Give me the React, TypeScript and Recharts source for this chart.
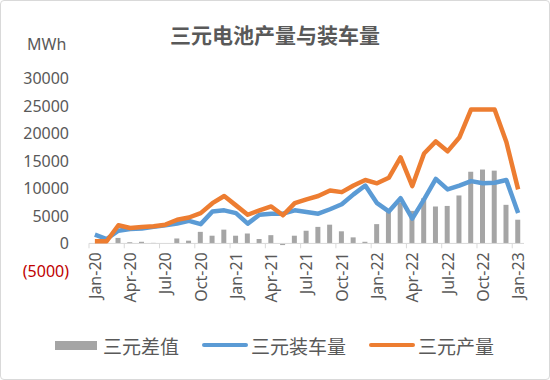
import {
  Bar,
  ComposedChart,
  Line,
  ReferenceLine,
  XAxis,
  YAxis,
} from "recharts";

const MONTHS = [
  "Jan-20", "Feb-20", "Mar-20", "Apr-20", "May-20", "Jun-20", "Jul-20", "Aug-20", "Sep-20", "Oct-20", "Nov-20", "Dec-20",
  "Jan-21", "Feb-21", "Mar-21", "Apr-21", "May-21", "Jun-21", "Jul-21", "Aug-21", "Sep-21", "Oct-21", "Nov-21", "Dec-21",
  "Jan-22", "Feb-22", "Mar-22", "Apr-22", "May-22", "Jun-22", "Jul-22", "Aug-22", "Sep-22", "Oct-22", "Nov-22", "Dec-22",
  "Jan-23",
];

// 三元产量
const PRODUCTION = [
  400, 400, 3300, 2800, 3000, 3100, 3400, 4300, 4700, 5500, 7300, 8600,
  6900, 5200, 6000, 6700, 5100, 7300, 8000, 8600, 9600, 9300, 10500, 11500,
  10900, 11900, 15600, 10400, 16300, 18500, 16700, 19200, 24300, 24300, 24300, 18400,
  9800,
];

// 三元装车量
const INSTALLED = [
  1600, 800, 2300, 2600, 2700, 3000, 3300, 3600, 4100, 3500, 5800, 6000,
  5500, 3600, 5200, 5400, 5400, 6000, 5700, 5400, 6200, 7100, 8900, 10500,
  7300, 5800, 8200, 4500, 8000, 11700, 9800, 10500, 11300, 10900, 11000, 11500,
  5500,
];

// 三元差值
const GAP = [
  0, 0, 1000, 200, 300, 100, 0, 900, 500, 2100, 1400, 2500,
  1400, 1800, 800, 1500, -300, 1400, 2300, 3000, 3400, 2200, 1100, 300,
  3500, 6100, 7400, 5900, 8200, 6700, 6800, 8700, 13000, 13400, 13200, 7000,
  4300,
];

const Y_TICKS = [-5000, 0, 5000, 10000, 15000, 20000, 25000, 30000];

const GREY = "#a5a5a5";
const BLUE = "#5b9bd5";
const ORANGE = "#ed7d31";
const INK = "#595959";
const RED = "#c00000";
const AXIS = "#d9d9d9";
const NUM_FONT = "'Noto Sans', 'Noto Sans CJK SC', sans-serif";
const CJK_FONT = "'Noto Sans CJK SC', sans-serif";

const W = 550;
const H = 380;
const M = { top: 78, right: 26, bottom: 108, left: 0 };
const Y_W = 89;
const PLOT_W = W - M.left - M.right - Y_W;
const PLOT_H = H - M.top - M.bottom;
const STEP = PLOT_W / MONTHS.length;
const DROP = (PLOT_H * 5000) / 35000; // distance from bottom of plot to the zero line

const data = MONTHS.map((m, i) => ({
  month: m,
  production: PRODUCTION[i],
  installed: INSTALLED[i],
  gap: GAP[i],
}));

function YTick({ x, y, payload }: any) {
  const v = payload.value as number;
  return (
    <text
      x={x}
      y={y}
      textAnchor="end"
      dominantBaseline="central"
      fontSize={16}
      fontFamily={NUM_FONT}
      fill={v < 0 ? RED : INK}
    >
      {v < 0 ? `(${-v})` : v}
    </text>
  );
}

function XTick({ x, y, payload }: any) {
  const zy = y - DROP;
  const tx = x - STEP / 2;
  return (
    <g>
      <line x1={tx} x2={tx} y1={zy} y2={zy + 5} stroke={AXIS} />
      <text
        x={x}
        y={zy + 9}
        transform={`rotate(-90 ${x} ${zy + 9})`}
        textAnchor="end"
        dominantBaseline="central"
        fontSize={16}
        fontFamily={NUM_FONT}
        fill={INK}
      >
        {payload.value}
      </text>
    </g>
  );
}

const LEGEND = [
  { label: "三元差值", color: GREY, kind: "bar" },
  { label: "三元装车量", color: BLUE, kind: "line" },
  { label: "三元产量", color: ORANGE, kind: "line" },
];

export default function App() {
  return (
    <div style={{ position: "absolute", left: 0, top: 0, width: W, height: H, background: "#fff" }}>
      <div
        style={{
          position: "absolute",
          left: 0,
          top: 0,
          width: W - 2,
          height: H - 2,
          border: `1px solid ${AXIS}`,
          borderRadius: 4,
        }}
      />
      <div
        style={{
          position: "absolute",
          left: 0,
          width: W,
          top: 21,
          textAlign: "center",
          fontFamily: CJK_FONT,
          fontWeight: 700,
          fontSize: 21,
          lineHeight: "26px",
          color: INK,
        }}
      >
        三元电池产量与装车量
      </div>
      <div
        style={{
          position: "absolute",
          left: 27,
          top: 34,
          fontFamily: NUM_FONT,
          fontSize: 16,
          lineHeight: "20px",
          color: INK,
        }}
      >
        MWh
      </div>
      <ComposedChart width={W} height={H} data={data} margin={M} style={{ position: "absolute", left: 0, top: 0 }}>
        <XAxis
          dataKey="month"
          interval={2}
          axisLine={false}
          tickLine={false}
          tickSize={0}
          tickMargin={0}
          height={1}
          tick={<XTick />}
        />
        <YAxis
          width={Y_W}
          domain={[-5000, 30000]}
          ticks={Y_TICKS}
          axisLine={false}
          tickLine={false}
          tickSize={0}
          tickMargin={20}
          tick={<YTick />}
        />
        <ReferenceLine y={0} stroke={AXIS} strokeWidth={1} />
        <Bar dataKey="gap" name="三元差值" fill={GREY} barSize={5} isAnimationActive={false} />
        <Line
          type="linear"
          dataKey="installed"
          name="三元装车量"
          stroke={BLUE}
          strokeWidth={4.5}
          strokeLinejoin="round"
          dot={false}
          isAnimationActive={false}
        />
        <Line
          type="linear"
          dataKey="production"
          name="三元产量"
          stroke={ORANGE}
          strokeWidth={4.5}
          strokeLinejoin="round"
          dot={false}
          isAnimationActive={false}
        />
      </ComposedChart>
      <div
        style={{
          position: "absolute",
          left: 55,
          top: 333,
          height: 24,
          display: "flex",
          alignItems: "center",
          fontFamily: CJK_FONT,
          fontSize: 19,
          color: INK,
        }}
      >
        {LEGEND.map((it, i) => (
          <div key={it.label} style={{ display: "flex", alignItems: "center", marginLeft: i === 0 ? 0 : 23 }}>
            <div
              style={{
                width: it.kind === "bar" ? 42 : 46,
                height: it.kind === "bar" ? 9 : 4,
                borderRadius: it.kind === "bar" ? 0 : 2,
                background: it.color,
                marginRight: it.kind === "bar" ? 6 : 3,
              }}
            />
            <span>{it.label}</span>
          </div>
        ))}
      </div>
    </div>
  );
}
